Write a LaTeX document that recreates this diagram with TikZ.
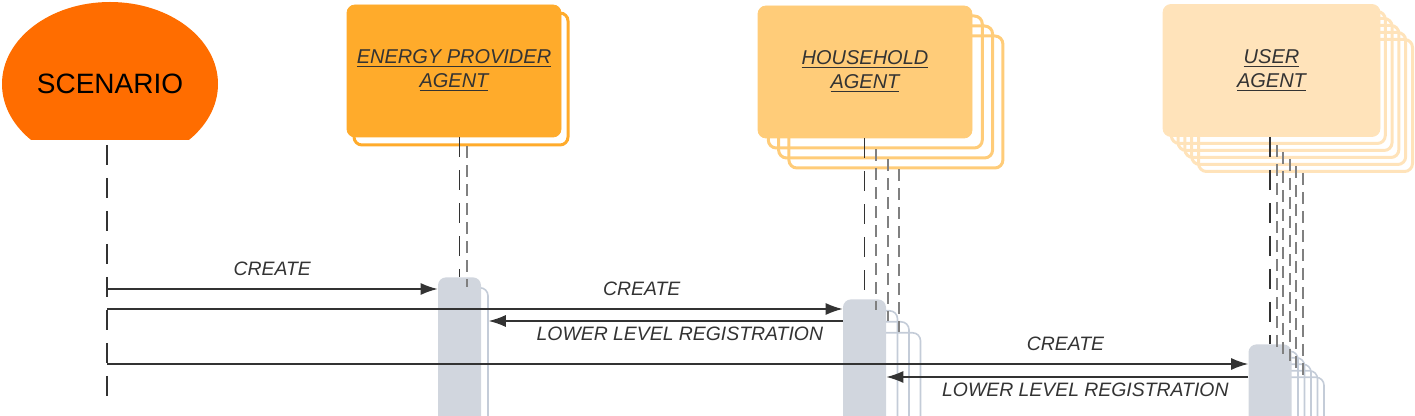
\documentclass[tikz,border=0pt]{standalone}
\usepackage{fontspec}
\setmainfont{Liberation Sans}
\usetikzlibrary{positioning,shapes,arrows.meta}
\definecolor{scnC}{HTML}{FF6D00}
\definecolor{epC}{HTML}{FFAB2B}
\definecolor{hhC}{HTML}{FFCC79}
\definecolor{usrC}{HTML}{FFE3BA}
\definecolor{barC}{HTML}{D1D6DE}
\definecolor{barlineC}{HTML}{C4CCD8}
\definecolor{txtC}{HTML}{333333}
\tikzstyle{agent}=[rectangle,rounded corners=4pt,minimum width=107pt,minimum height=66pt,inner sep=0pt,align=center,text=txtC,font=\fontsize{10}{12}\selectfont\itshape]
\tikzstyle{agentcopy}=[rectangle,rounded corners=4pt,minimum width=107pt,minimum height=66pt,line width=1.5pt]
\tikzstyle{bar}=[rectangle,rounded corners=4pt,anchor=north,minimum width=21.5pt,minimum height=90pt,fill=barC]
\tikzstyle{barcopy}=[bar,fill=none,draw=barlineC,line width=0.8pt]
\tikzstyle{lifeline}=[draw=txtC,line width=0.6pt,dash pattern=on 10pt off 6.5pt]
\tikzstyle{copyline}=[draw=gray,line width=1pt,dash pattern=on 6pt off 3.5pt]
\tikzstyle{msg}=[draw=txtC,line width=0.6pt,-{Latex[length=8.5pt,width=6pt]}]
\tikzstyle{msglabel}=[text=txtC,font=\fontsize{9.7}{11}\selectfont\itshape,inner sep=0pt]
\newcommand{\newMessage}[4]{\draw[msg] (#1) -- node[msglabel,#4]{#3} (#2);}

\begin{document}
\begin{tikzpicture}[x=0.5pt,y=-0.5pt]
      \clip (0,0) rectangle (1415,416);

      % scenario
      \begin{scope}
        \clip (0,0) rectangle (1415,140);
        \node[ellipse,fill=scnC,minimum width=108pt,minimum height=82pt,inner sep=0pt,
          font=\fontsize{14}{16}\selectfont] (scn) at (110,84) {SCENARIO};
      \end{scope}
      \coordinate (scntop) at (107,145);
      \coordinate (scnend) at (107,406);
      \draw[lifeline] (scntop) -- (scnend);

      % energy provider
      \node[agentcopy,draw=epC] (ep1) at (461,79) {};
      \node[agent,fill=epC,draw=epC] (ep) at (454,71) {\underline{ENERGY PROVIDER}\\\underline{AGENT}};
      \node[barcopy] (epbar1) at (466.5,287) {};
      \node[bar] (epbar) at (459.5,277) {};
      \draw[copyline] (ep1.south -| epbar1.north) -- (epbar1.north);
      \draw[lifeline] (ep.south -| epbar.north) -- (epbar.north);

      % household
      \foreach \k in {3,2,1}{
        \node[agentcopy,draw=hhC] (hh\k) at (865+10.3*\k,72+10*\k) {};
        \node[barcopy] (hhbar\k) at (864.5+11.5*\k,299+11*\k) {};
      }
      \node[agent,fill=hhC,draw=hhC] (hh) at (865,72) {\underline{HOUSEHOLD}\\\underline{AGENT}};
      \node[bar] (hhbar) at (864.5,299) {};
      \foreach \k in {1,2,3}
        \draw[copyline] (hh\k.south -| hhbar\k.north) -- (hhbar\k.north);
      \draw[lifeline] (hh.south -| hhbar.north) -- (hhbar.north);

      % user
      \foreach \k in {5,4,3,2,1}{
        \node[agentcopy,draw=usrC] (usr\k) at (1271.5+6.8*\k,70.5+7*\k) {};
        \node[barcopy] (usrbar\k) at (1270+6.5*\k,344+6.5*\k) {};
      }
      \node[agent,fill=usrC,draw=usrC,minimum width=108.5pt] (usr) at (1271.5,70.5) {\underline{USER}\\\underline{AGENT}};
      \node[bar] (usrbar) at (1270,344) {};
      \foreach \k in {1,...,5}
        \draw[copyline] (usr\k.south -| usrbar\k.north) -- (usrbar\k.north);
      \draw[lifeline] (usr.south -| usrbar.north) -- (usrbar.north);

      % messages
      \coordinate (m1) at (107,289);
      \coordinate (m2) at (107,309);
      \coordinate (m3) at (107,364);
      \newMessage{m1}{m1 -| epbar.west}{CREATE}{pos=.5,yshift=10pt}
      \newMessage{m2}{m2 -| hhbar.west}{CREATE}{pos=.727,yshift=10pt}
      \newMessage{hhbar.west |- 0,321}{epbar1.east |- 0,321}{LOWER LEVEL REGISTRATION}{pos=.46,yshift=-6.5pt}
      \newMessage{m3}{m3 -| usrbar.west}{CREATE}{pos=.84,yshift=10pt}
      \newMessage{usrbar.west |- 0,377}{hhbar.east |- 0,377}{LOWER LEVEL REGISTRATION}{pos=.45,yshift=-6.5pt}
    \end{tikzpicture}
\end{document}
